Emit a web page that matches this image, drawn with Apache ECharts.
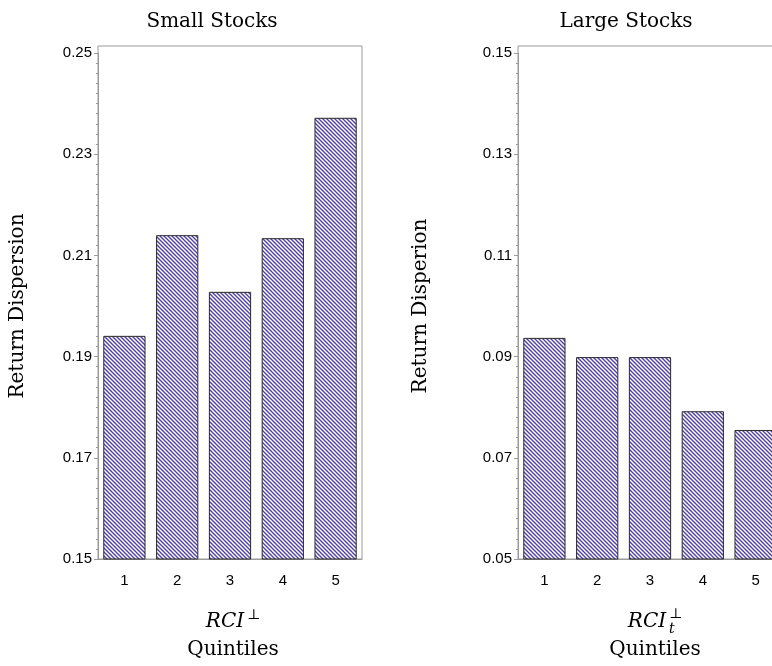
<!DOCTYPE html>
<html>
<head>
<meta charset="utf-8">
<script src="https://cdn.jsdelivr.net/npm/echarts@6/dist/echarts.min.js"></script>
<style>
html,body{margin:0;padding:0;background:#fff;overflow:hidden;}
#chart{width:800px;height:666px;}
</style>
</head>
<body>
<div id="chart"></div>
<script>
const categories = ['1', '2', '3', '4', '5'];
const smallValues = [0.1941, 0.2140, 0.2028, 0.2134, 0.2372];
const largeValues = [0.0937, 0.0899, 0.0899, 0.0792, 0.0755];
const smallRange = [0.15, 0.25];
const largeRange = [0.05, 0.15];
const tickStep = 0.02;
const titles = ['Small Stocks', 'Large Stocks'];
const yNames = ['Return Dispersion', 'Return Disperion'];

function hatch() {
  const s = 4;
  const c = document.createElement('canvas');
  c.width = s; c.height = s;
  const g = c.getContext('2d');
  g.fillStyle = '#ffffff';
  g.fillRect(0, 0, s, s);
  g.strokeStyle = '#4f3fa3';
  g.lineWidth = 1.35;
  for (const o of [-s, 0, s]) {
    g.beginPath();
    g.moveTo(o - 1, -1);
    g.lineTo(o + s + 1, s + 1);
    g.stroke();
  }
  return c;
}
const pattern = { image: hatch(), repeat: 'repeat' };

const axisGray = '#9a9a9a';
const serif = '"DejaVu Serif", serif';
const sans = '"Liberation Sans", Arial, sans-serif';

function yAxisFor(idx, range, name, gap) {
  return {
    type: 'value', gridIndex: idx, min: range[0], max: range[1], interval: tickStep,
    name: name, nameLocation: 'middle', nameGap: gap, nameRotate: 90,
    nameTextStyle: { fontFamily: serif, fontSize: 20, color: '#000' },
    axisLine: { show: true, lineStyle: { color: axisGray, width: 1 } },
    axisTick: { show: true, length: 4, lineStyle: { color: axisGray } },
    minorTick: { show: true, splitNumber: 10, length: 2, lineStyle: { color: axisGray } },
    splitLine: { show: false },
    axisLabel: { fontFamily: sans, fontSize: 15, color: '#000', margin: 6,
      formatter: v => v.toFixed(2) }
  };
}
function xAxisFor(idx) {
  return {
    type: 'category', gridIndex: idx, data: categories,
    axisLine: { show: true, lineStyle: { color: axisGray, width: 1 } },
    axisTick: { show: false },
    axisLabel: { fontFamily: sans, fontSize: 15, color: '#000', margin: 14 }
  };
}
function barSeries(idx, values) {
  return {
    type: 'bar', xAxisIndex: idx, yAxisIndex: idx, data: values,
    barCategoryGap: '20%',
    itemStyle: { color: pattern, borderColor: '#2a2a2a', borderWidth: 1 },
    silent: true
  };
}

const chart = echarts.init(document.getElementById('chart'), null, { renderer: 'canvas' });
chart.setOption({
  backgroundColor: '#ffffff',
  animation: false,
  grid: [
    { left: 98, top: 53, width: 264, height: 506 },
    { left: 518, top: 53, width: 264, height: 506 },
    { left: 98, top: 46, width: 264, height: 513, show: true, borderColor: axisGray, borderWidth: 1, backgroundColor: 'transparent' },
    { left: 518, top: 46, width: 264, height: 513, show: true, borderColor: axisGray, borderWidth: 1, backgroundColor: 'transparent' }
  ],
  xAxis: [xAxisFor(0), xAxisFor(1),
    { type: 'value', gridIndex: 2, show: false }, { type: 'value', gridIndex: 3, show: false }],
  yAxis: [yAxisFor(0, smallRange, yNames[0], 70), yAxisFor(1, largeRange, yNames[1], 87),
    { type: 'value', gridIndex: 2, show: false }, { type: 'value', gridIndex: 3, show: false }],
  series: [barSeries(0, smallValues), barSeries(1, largeValues)],
  graphic: [
    { type: 'text', x: 212, y: 22, style: { text: titles[0], font: '20px ' + serif, fill: '#000', textAlign: 'center', textVerticalAlign: 'middle' } },
    { type: 'text', x: 626, y: 22, style: { text: titles[1], font: '20px ' + serif, fill: '#000', textAlign: 'center', textVerticalAlign: 'middle' } },
    { type: 'text', x: 225, y: 622, style: { text: 'RCI', font: 'italic 20px ' + serif, fill: '#000', textAlign: 'center', textVerticalAlign: 'middle' } },
    { type: 'text', x: 247, y: 615, style: { text: '⊥', font: '14px ' + serif, fill: '#000', textAlign: 'left', textVerticalAlign: 'middle' } },
    { type: 'text', x: 233, y: 650, style: { text: 'Quintiles', font: '20px ' + serif, fill: '#000', textAlign: 'center', textVerticalAlign: 'middle' } },
    { type: 'text', x: 647, y: 622, style: { text: 'RCI', font: 'italic 20px ' + serif, fill: '#000', textAlign: 'center', textVerticalAlign: 'middle' } },
    { type: 'text', x: 669, y: 614, style: { text: '⊥', font: '14px ' + serif, fill: '#000', textAlign: 'left', textVerticalAlign: 'middle' } },
    { type: 'text', x: 669, y: 629, style: { text: 't', font: 'italic 14px ' + serif, fill: '#000', textAlign: 'left', textVerticalAlign: 'middle' } },
    { type: 'text', x: 655, y: 650, style: { text: 'Quintiles', font: '20px ' + serif, fill: '#000', textAlign: 'center', textVerticalAlign: 'middle' } }
  ]
});
</script>
</body>
</html>
